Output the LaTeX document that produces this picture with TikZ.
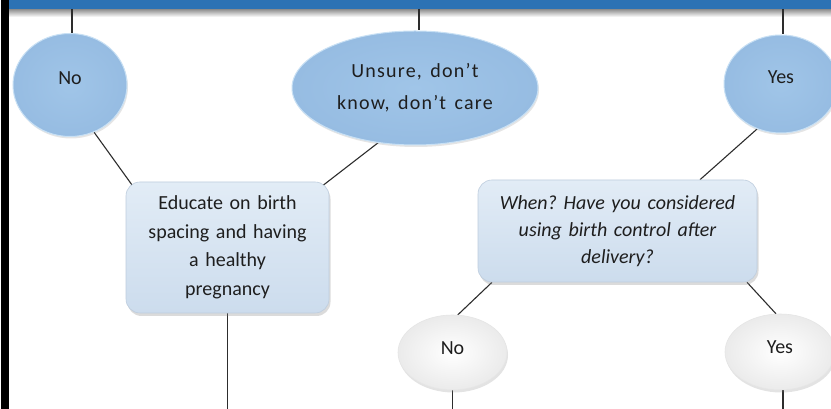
\documentclass[tikz,border=0pt]{standalone}
\usepackage{fontspec}
\setmainfont{Carlito}
\newfontfamily\spacedfont[LetterSpace=6]{Carlito}
\usetikzlibrary{shapes.geometric,shadows,calc}
\pgfdeclarelayer{bgl}
\pgfdeclarelayer{lnl}
\pgfsetlayers{bgl,lnl,main}
\frenchspacing
\newcommand{\wsp}{\hskip 8.5pt\relax}
\definecolor{bandblue}{RGB}{44,114,180}
\definecolor{ovalin}{RGB}{160,197,232}
\definecolor{ovalout}{RGB}{150,188,226}
\definecolor{ovaledge}{RGB}{200,224,244}
\definecolor{boxtop}{RGB}{226,236,246}
\definecolor{boxbot}{RGB}{204,220,237}
\definecolor{boxedge}{RGB}{190,205,222}
\definecolor{txt}{RGB}{30,30,30}
\definecolor{conn}{RGB}{45,45,45}
\begin{document}
\begin{tikzpicture}[x=1pt,y=1pt,
  basefont/.style={font=\fontsize{20}{28}\selectfont, text=txt},
  bigoval/.style={ellipse, inner sep=0pt, inner color=ovalin, outer color=ovalout,
    draw=ovaledge, line width=1pt, basefont,
    drop shadow={opacity=0.2, shadow xshift=1pt, shadow yshift=-2pt}},
  smalloval/.style={ellipse, inner sep=0pt, inner color=white, outer color=black!8,
    draw=black!10, line width=0.6pt, basefont,
    drop shadow={opacity=0.22, shadow xshift=1pt, shadow yshift=-2.5pt}},
  infobox/.style={rectangle, rounded corners=14pt, inner sep=0pt, top color=boxtop,
    bottom color=boxbot, draw=boxedge, line width=0.6pt, basefont, align=center,
    drop shadow={opacity=0.28, shadow xshift=1.5pt, shadow yshift=-3pt}},
  link/.style={draw=conn, line width=1.1pt}]

\useasboundingbox (0,0) rectangle (831,409);
\begin{pgfonlayer}{bgl}
  \fill[white] (0,0) rectangle (831,409);
  \fill[black] (1,0) rectangle (9,409);
  \shade[top color=black!45, bottom color=white] (9,392) rectangle (831,400);
  \fill[bandblue] (9,400) rectangle (831,409);
\end{pgfonlayer}

\begin{scope}
\clip (9,0) rectangle (831,400);

% nodes
\node[bigoval, minimum width=114pt, minimum height=103pt] (noA) at (70,324) {\smash{No}};
\node[bigoval, minimum width=246pt, minimum height=114pt,
      font=\spacedfont\fontsize{20}{31.6}\selectfont, align=center] (unsure) at (415,321)
      {Unsure,\wsp don’t\\know,\wsp don’t\wsp care};
\node[bigoval, minimum width=114pt, minimum height=98pt] (yesA) at (781,325) {\smash{Yes}};

\node[infobox, minimum width=203pt, minimum height=131pt, text width=200pt,
      font=\fontsize{20}{28.5}\selectfont] (educate) at (227.5,161.5)
      {Educate on birth\\spacing and having\\a healthy\\pregnancy};
\node[infobox, minimum width=279pt, minimum height=102pt, text width=276pt,
      font=\itshape\fontsize{20}{27}\selectfont] (when) at (617.5,178)
      {When? Have you considered\\using birth control after\\delivery?};

\node[smalloval, minimum width=109pt, minimum height=75pt] (noB) at (452.5,56.5)
      {\smash{\raisebox{-2.5pt}{No}}};
\node[smalloval, minimum width=110pt, minimum height=76pt] (yesB) at (780,57)
      {\smash{\raisebox{-1.5pt}{Yes}}};

% free ends
\coordinate (bandL) at (72,400);
\coordinate (bandM) at (419,400);
\coordinate (bandR) at (783,400);
\coordinate (endE) at (227.5,0);
\coordinate (endN) at (452.5,0);
\coordinate (endY) at (783,0);

\begin{pgfonlayer}{lnl}
  \draw[link] (bandL) -- (bandL |- noA.north);
  \draw[link] (bandM) -- (bandM |- unsure.north);
  \draw[link] (bandR) -- (bandR |- yesA.north);
  \draw[link] (noA.-63) -- ($(educate.north west)+(9,-7)$);
  \draw[link] (unsure.236) -- ($(educate.north east)+(-8,-5)$);
  \draw[link] (yesA.242) -- ($(when.north)+(82.5,0)$);
  \draw[link] ($(when.south)+(-125.5,0)$) -- (noB.82);
  \draw[link] ($(when.south)+(129.5,0)$) -- (yesB.96);
  \draw[link] (educate.south) -- (endE);
  \draw[link] (noB.south) -- (endN);
  \draw[link] ($(yesB.south)+(3,0)$) -- (endY);
\end{pgfonlayer}
\end{scope}
\end{tikzpicture}
\end{document}
